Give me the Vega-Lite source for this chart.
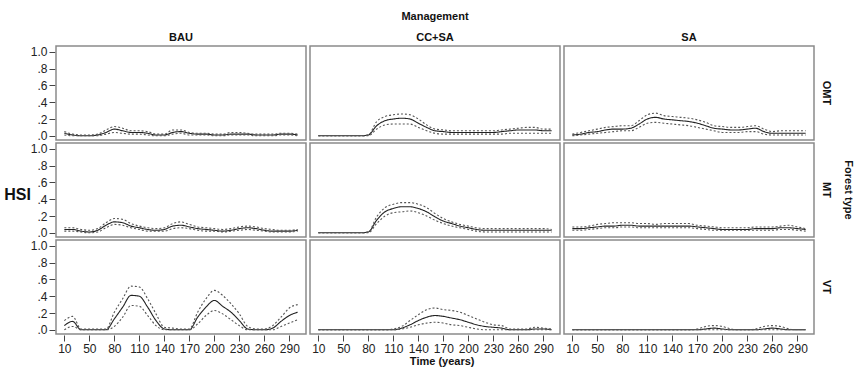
{
  "$schema": "https://vega.github.io/schema/vega-lite/v6.json",
  "padding": {"top": 11, "left": 4, "right": 0, "bottom": 2},
  "title": {"text": "Time (years)", "orient": "bottom", "anchor": "middle", "fontSize": 11, "fontWeight": "bold", "color": "#111111", "offset": 2, "dx": 13},
  "vconcat": [{
  "data": {"values": [
    {"m":"BAU","f":"OMT","t":10,"Mean":0.03,"Upper":0.05,"Lower":0.01},
    {"m":"BAU","f":"OMT","t":20,"Mean":0.01,"Upper":0.02,"Lower":0.0},
    {"m":"BAU","f":"OMT","t":30,"Mean":0.0,"Upper":0.01,"Lower":0.0},
    {"m":"BAU","f":"OMT","t":50,"Mean":0.0,"Upper":0.01,"Lower":0.0},
    {"m":"BAU","f":"OMT","t":60,"Mean":0.01,"Upper":0.02,"Lower":0.0},
    {"m":"BAU","f":"OMT","t":70,"Mean":0.04,"Upper":0.07,"Lower":0.02},
    {"m":"BAU","f":"OMT","t":80,"Mean":0.08,"Upper":0.11,"Lower":0.04},
    {"m":"BAU","f":"OMT","t":90,"Mean":0.06,"Upper":0.09,"Lower":0.03},
    {"m":"BAU","f":"OMT","t":100,"Mean":0.04,"Upper":0.06,"Lower":0.02},
    {"m":"BAU","f":"OMT","t":110,"Mean":0.04,"Upper":0.06,"Lower":0.02},
    {"m":"BAU","f":"OMT","t":120,"Mean":0.03,"Upper":0.05,"Lower":0.01},
    {"m":"BAU","f":"OMT","t":130,"Mean":0.01,"Upper":0.02,"Lower":0.0},
    {"m":"BAU","f":"OMT","t":140,"Mean":0.01,"Upper":0.02,"Lower":0.0},
    {"m":"BAU","f":"OMT","t":150,"Mean":0.04,"Upper":0.07,"Lower":0.02},
    {"m":"BAU","f":"OMT","t":160,"Mean":0.05,"Upper":0.07,"Lower":0.03},
    {"m":"BAU","f":"OMT","t":170,"Mean":0.03,"Upper":0.04,"Lower":0.01},
    {"m":"BAU","f":"OMT","t":180,"Mean":0.02,"Upper":0.03,"Lower":0.01},
    {"m":"BAU","f":"OMT","t":190,"Mean":0.02,"Upper":0.03,"Lower":0.01},
    {"m":"BAU","f":"OMT","t":200,"Mean":0.01,"Upper":0.02,"Lower":0.0},
    {"m":"BAU","f":"OMT","t":210,"Mean":0.01,"Upper":0.02,"Lower":0.0},
    {"m":"BAU","f":"OMT","t":220,"Mean":0.02,"Upper":0.04,"Lower":0.01},
    {"m":"BAU","f":"OMT","t":230,"Mean":0.02,"Upper":0.04,"Lower":0.01},
    {"m":"BAU","f":"OMT","t":240,"Mean":0.02,"Upper":0.03,"Lower":0.01},
    {"m":"BAU","f":"OMT","t":250,"Mean":0.01,"Upper":0.02,"Lower":0.0},
    {"m":"BAU","f":"OMT","t":260,"Mean":0.01,"Upper":0.02,"Lower":0.0},
    {"m":"BAU","f":"OMT","t":270,"Mean":0.01,"Upper":0.02,"Lower":0.0},
    {"m":"BAU","f":"OMT","t":280,"Mean":0.02,"Upper":0.03,"Lower":0.01},
    {"m":"BAU","f":"OMT","t":290,"Mean":0.02,"Upper":0.03,"Lower":0.01},
    {"m":"BAU","f":"OMT","t":300,"Mean":0.01,"Upper":0.02,"Lower":0.0},

    {"m":"BAU","f":"MT","t":10,"Mean":0.04,"Upper":0.06,"Lower":0.02},
    {"m":"BAU","f":"MT","t":20,"Mean":0.04,"Upper":0.06,"Lower":0.02},
    {"m":"BAU","f":"MT","t":30,"Mean":0.02,"Upper":0.04,"Lower":0.01},
    {"m":"BAU","f":"MT","t":50,"Mean":0.01,"Upper":0.03,"Lower":0.0},
    {"m":"BAU","f":"MT","t":60,"Mean":0.03,"Upper":0.05,"Lower":0.01},
    {"m":"BAU","f":"MT","t":70,"Mean":0.09,"Upper":0.12,"Lower":0.06},
    {"m":"BAU","f":"MT","t":80,"Mean":0.13,"Upper":0.17,"Lower":0.10},
    {"m":"BAU","f":"MT","t":90,"Mean":0.12,"Upper":0.16,"Lower":0.09},
    {"m":"BAU","f":"MT","t":100,"Mean":0.08,"Upper":0.11,"Lower":0.06},
    {"m":"BAU","f":"MT","t":110,"Mean":0.06,"Upper":0.08,"Lower":0.04},
    {"m":"BAU","f":"MT","t":120,"Mean":0.04,"Upper":0.06,"Lower":0.02},
    {"m":"BAU","f":"MT","t":130,"Mean":0.03,"Upper":0.05,"Lower":0.02},
    {"m":"BAU","f":"MT","t":140,"Mean":0.04,"Upper":0.06,"Lower":0.02},
    {"m":"BAU","f":"MT","t":150,"Mean":0.08,"Upper":0.11,"Lower":0.05},
    {"m":"BAU","f":"MT","t":160,"Mean":0.09,"Upper":0.13,"Lower":0.06},
    {"m":"BAU","f":"MT","t":170,"Mean":0.07,"Upper":0.10,"Lower":0.05},
    {"m":"BAU","f":"MT","t":180,"Mean":0.05,"Upper":0.07,"Lower":0.03},
    {"m":"BAU","f":"MT","t":190,"Mean":0.04,"Upper":0.06,"Lower":0.02},
    {"m":"BAU","f":"MT","t":200,"Mean":0.03,"Upper":0.05,"Lower":0.02},
    {"m":"BAU","f":"MT","t":210,"Mean":0.02,"Upper":0.04,"Lower":0.01},
    {"m":"BAU","f":"MT","t":220,"Mean":0.03,"Upper":0.05,"Lower":0.02},
    {"m":"BAU","f":"MT","t":230,"Mean":0.05,"Upper":0.07,"Lower":0.03},
    {"m":"BAU","f":"MT","t":240,"Mean":0.06,"Upper":0.08,"Lower":0.04},
    {"m":"BAU","f":"MT","t":250,"Mean":0.05,"Upper":0.07,"Lower":0.03},
    {"m":"BAU","f":"MT","t":260,"Mean":0.03,"Upper":0.05,"Lower":0.02},
    {"m":"BAU","f":"MT","t":270,"Mean":0.02,"Upper":0.04,"Lower":0.01},
    {"m":"BAU","f":"MT","t":280,"Mean":0.02,"Upper":0.03,"Lower":0.01},
    {"m":"BAU","f":"MT","t":290,"Mean":0.02,"Upper":0.03,"Lower":0.01},
    {"m":"BAU","f":"MT","t":300,"Mean":0.03,"Upper":0.04,"Lower":0.02},

    {"m":"BAU","f":"VT","t":10,"Mean":0.05,"Upper":0.11,"Lower":0.0},
    {"m":"BAU","f":"VT","t":20,"Mean":0.10,"Upper":0.16,"Lower":0.04},
    {"m":"BAU","f":"VT","t":30,"Mean":0.0,"Upper":0.01,"Lower":0.0},
    {"m":"BAU","f":"VT","t":50,"Mean":0.0,"Upper":0.01,"Lower":0.0},
    {"m":"BAU","f":"VT","t":60,"Mean":0.0,"Upper":0.01,"Lower":0.0},
    {"m":"BAU","f":"VT","t":70,"Mean":0.0,"Upper":0.01,"Lower":0.0},
    {"m":"BAU","f":"VT","t":80,"Mean":0.13,"Upper":0.21,"Lower":0.04},
    {"m":"BAU","f":"VT","t":90,"Mean":0.27,"Upper":0.37,"Lower":0.15},
    {"m":"BAU","f":"VT","t":100,"Mean":0.41,"Upper":0.52,"Lower":0.29},
    {"m":"BAU","f":"VT","t":110,"Mean":0.40,"Upper":0.51,"Lower":0.28},
    {"m":"BAU","f":"VT","t":120,"Mean":0.27,"Upper":0.37,"Lower":0.17},
    {"m":"BAU","f":"VT","t":130,"Mean":0.11,"Upper":0.19,"Lower":0.05},
    {"m":"BAU","f":"VT","t":140,"Mean":0.01,"Upper":0.03,"Lower":0.0},
    {"m":"BAU","f":"VT","t":150,"Mean":0.0,"Upper":0.02,"Lower":0.0},
    {"m":"BAU","f":"VT","t":160,"Mean":0.0,"Upper":0.01,"Lower":0.0},
    {"m":"BAU","f":"VT","t":170,"Mean":0.0,"Upper":0.01,"Lower":0.0},
    {"m":"BAU","f":"VT","t":180,"Mean":0.15,"Upper":0.21,"Lower":0.07},
    {"m":"BAU","f":"VT","t":190,"Mean":0.27,"Upper":0.37,"Lower":0.17},
    {"m":"BAU","f":"VT","t":200,"Mean":0.35,"Upper":0.47,"Lower":0.23},
    {"m":"BAU","f":"VT","t":210,"Mean":0.28,"Upper":0.41,"Lower":0.19},
    {"m":"BAU","f":"VT","t":220,"Mean":0.21,"Upper":0.31,"Lower":0.12},
    {"m":"BAU","f":"VT","t":230,"Mean":0.11,"Upper":0.19,"Lower":0.05},
    {"m":"BAU","f":"VT","t":240,"Mean":0.01,"Upper":0.04,"Lower":0.0},
    {"m":"BAU","f":"VT","t":250,"Mean":0.0,"Upper":0.01,"Lower":0.0},
    {"m":"BAU","f":"VT","t":260,"Mean":0.0,"Upper":0.01,"Lower":0.0},
    {"m":"BAU","f":"VT","t":270,"Mean":0.02,"Upper":0.05,"Lower":0.0},
    {"m":"BAU","f":"VT","t":280,"Mean":0.10,"Upper":0.15,"Lower":0.04},
    {"m":"BAU","f":"VT","t":290,"Mean":0.17,"Upper":0.26,"Lower":0.08},
    {"m":"BAU","f":"VT","t":300,"Mean":0.21,"Upper":0.30,"Lower":0.12},

    {"m":"CC+SA","f":"OMT","t":10,"Mean":0.0,"Upper":0.0,"Lower":0.0},
    {"m":"CC+SA","f":"OMT","t":20,"Mean":0.0,"Upper":0.0,"Lower":0.0},
    {"m":"CC+SA","f":"OMT","t":30,"Mean":0.0,"Upper":0.0,"Lower":0.0},
    {"m":"CC+SA","f":"OMT","t":50,"Mean":0.0,"Upper":0.0,"Lower":0.0},
    {"m":"CC+SA","f":"OMT","t":60,"Mean":0.0,"Upper":0.0,"Lower":0.0},
    {"m":"CC+SA","f":"OMT","t":70,"Mean":0.0,"Upper":0.0,"Lower":0.0},
    {"m":"CC+SA","f":"OMT","t":80,"Mean":0.01,"Upper":0.01,"Lower":0.0},
    {"m":"CC+SA","f":"OMT","t":90,"Mean":0.12,"Upper":0.17,"Lower":0.08},
    {"m":"CC+SA","f":"OMT","t":100,"Mean":0.18,"Upper":0.23,"Lower":0.13},
    {"m":"CC+SA","f":"OMT","t":110,"Mean":0.20,"Upper":0.25,"Lower":0.14},
    {"m":"CC+SA","f":"OMT","t":120,"Mean":0.21,"Upper":0.26,"Lower":0.14},
    {"m":"CC+SA","f":"OMT","t":130,"Mean":0.20,"Upper":0.25,"Lower":0.14},
    {"m":"CC+SA","f":"OMT","t":140,"Mean":0.15,"Upper":0.20,"Lower":0.10},
    {"m":"CC+SA","f":"OMT","t":150,"Mean":0.10,"Upper":0.13,"Lower":0.06},
    {"m":"CC+SA","f":"OMT","t":160,"Mean":0.06,"Upper":0.08,"Lower":0.03},
    {"m":"CC+SA","f":"OMT","t":170,"Mean":0.05,"Upper":0.07,"Lower":0.02},
    {"m":"CC+SA","f":"OMT","t":180,"Mean":0.04,"Upper":0.06,"Lower":0.02},
    {"m":"CC+SA","f":"OMT","t":190,"Mean":0.04,"Upper":0.06,"Lower":0.02},
    {"m":"CC+SA","f":"OMT","t":200,"Mean":0.04,"Upper":0.06,"Lower":0.02},
    {"m":"CC+SA","f":"OMT","t":210,"Mean":0.04,"Upper":0.06,"Lower":0.02},
    {"m":"CC+SA","f":"OMT","t":220,"Mean":0.04,"Upper":0.06,"Lower":0.02},
    {"m":"CC+SA","f":"OMT","t":230,"Mean":0.04,"Upper":0.06,"Lower":0.02},
    {"m":"CC+SA","f":"OMT","t":240,"Mean":0.05,"Upper":0.07,"Lower":0.02},
    {"m":"CC+SA","f":"OMT","t":250,"Mean":0.06,"Upper":0.08,"Lower":0.03},
    {"m":"CC+SA","f":"OMT","t":260,"Mean":0.07,"Upper":0.09,"Lower":0.03},
    {"m":"CC+SA","f":"OMT","t":270,"Mean":0.07,"Upper":0.10,"Lower":0.03},
    {"m":"CC+SA","f":"OMT","t":280,"Mean":0.07,"Upper":0.10,"Lower":0.03},
    {"m":"CC+SA","f":"OMT","t":290,"Mean":0.06,"Upper":0.08,"Lower":0.03},
    {"m":"CC+SA","f":"OMT","t":300,"Mean":0.06,"Upper":0.08,"Lower":0.03},

    {"m":"CC+SA","f":"MT","t":10,"Mean":0.0,"Upper":0.0,"Lower":0.0},
    {"m":"CC+SA","f":"MT","t":20,"Mean":0.0,"Upper":0.0,"Lower":0.0},
    {"m":"CC+SA","f":"MT","t":30,"Mean":0.0,"Upper":0.0,"Lower":0.0},
    {"m":"CC+SA","f":"MT","t":50,"Mean":0.0,"Upper":0.0,"Lower":0.0},
    {"m":"CC+SA","f":"MT","t":60,"Mean":0.0,"Upper":0.0,"Lower":0.0},
    {"m":"CC+SA","f":"MT","t":70,"Mean":0.0,"Upper":0.0,"Lower":0.0},
    {"m":"CC+SA","f":"MT","t":80,"Mean":0.01,"Upper":0.01,"Lower":0.0},
    {"m":"CC+SA","f":"MT","t":90,"Mean":0.15,"Upper":0.19,"Lower":0.11},
    {"m":"CC+SA","f":"MT","t":100,"Mean":0.25,"Upper":0.30,"Lower":0.20},
    {"m":"CC+SA","f":"MT","t":110,"Mean":0.29,"Upper":0.34,"Lower":0.24},
    {"m":"CC+SA","f":"MT","t":120,"Mean":0.31,"Upper":0.36,"Lower":0.25},
    {"m":"CC+SA","f":"MT","t":130,"Mean":0.31,"Upper":0.36,"Lower":0.26},
    {"m":"CC+SA","f":"MT","t":140,"Mean":0.29,"Upper":0.34,"Lower":0.24},
    {"m":"CC+SA","f":"MT","t":150,"Mean":0.25,"Upper":0.30,"Lower":0.20},
    {"m":"CC+SA","f":"MT","t":160,"Mean":0.19,"Upper":0.23,"Lower":0.15},
    {"m":"CC+SA","f":"MT","t":170,"Mean":0.14,"Upper":0.17,"Lower":0.11},
    {"m":"CC+SA","f":"MT","t":180,"Mean":0.11,"Upper":0.13,"Lower":0.08},
    {"m":"CC+SA","f":"MT","t":190,"Mean":0.08,"Upper":0.10,"Lower":0.06},
    {"m":"CC+SA","f":"MT","t":200,"Mean":0.06,"Upper":0.08,"Lower":0.04},
    {"m":"CC+SA","f":"MT","t":210,"Mean":0.04,"Upper":0.06,"Lower":0.02},
    {"m":"CC+SA","f":"MT","t":220,"Mean":0.03,"Upper":0.05,"Lower":0.01},
    {"m":"CC+SA","f":"MT","t":230,"Mean":0.03,"Upper":0.05,"Lower":0.01},
    {"m":"CC+SA","f":"MT","t":240,"Mean":0.03,"Upper":0.05,"Lower":0.01},
    {"m":"CC+SA","f":"MT","t":250,"Mean":0.03,"Upper":0.05,"Lower":0.01},
    {"m":"CC+SA","f":"MT","t":260,"Mean":0.03,"Upper":0.05,"Lower":0.01},
    {"m":"CC+SA","f":"MT","t":270,"Mean":0.03,"Upper":0.05,"Lower":0.01},
    {"m":"CC+SA","f":"MT","t":280,"Mean":0.03,"Upper":0.05,"Lower":0.01},
    {"m":"CC+SA","f":"MT","t":290,"Mean":0.03,"Upper":0.05,"Lower":0.01},
    {"m":"CC+SA","f":"MT","t":300,"Mean":0.03,"Upper":0.04,"Lower":0.01},

    {"m":"CC+SA","f":"VT","t":10,"Mean":0.0,"Upper":0.0,"Lower":0.0},
    {"m":"CC+SA","f":"VT","t":20,"Mean":0.0,"Upper":0.0,"Lower":0.0},
    {"m":"CC+SA","f":"VT","t":30,"Mean":0.0,"Upper":0.0,"Lower":0.0},
    {"m":"CC+SA","f":"VT","t":50,"Mean":0.0,"Upper":0.0,"Lower":0.0},
    {"m":"CC+SA","f":"VT","t":60,"Mean":0.0,"Upper":0.0,"Lower":0.0},
    {"m":"CC+SA","f":"VT","t":70,"Mean":0.0,"Upper":0.0,"Lower":0.0},
    {"m":"CC+SA","f":"VT","t":80,"Mean":0.0,"Upper":0.0,"Lower":0.0},
    {"m":"CC+SA","f":"VT","t":90,"Mean":0.0,"Upper":0.0,"Lower":0.0},
    {"m":"CC+SA","f":"VT","t":100,"Mean":0.0,"Upper":0.0,"Lower":0.0},
    {"m":"CC+SA","f":"VT","t":110,"Mean":0.0,"Upper":0.01,"Lower":0.0},
    {"m":"CC+SA","f":"VT","t":120,"Mean":0.02,"Upper":0.04,"Lower":0.01},
    {"m":"CC+SA","f":"VT","t":130,"Mean":0.06,"Upper":0.11,"Lower":0.03},
    {"m":"CC+SA","f":"VT","t":140,"Mean":0.11,"Upper":0.18,"Lower":0.06},
    {"m":"CC+SA","f":"VT","t":150,"Mean":0.15,"Upper":0.24,"Lower":0.08},
    {"m":"CC+SA","f":"VT","t":160,"Mean":0.17,"Upper":0.26,"Lower":0.09},
    {"m":"CC+SA","f":"VT","t":170,"Mean":0.16,"Upper":0.24,"Lower":0.08},
    {"m":"CC+SA","f":"VT","t":180,"Mean":0.14,"Upper":0.23,"Lower":0.06},
    {"m":"CC+SA","f":"VT","t":190,"Mean":0.12,"Upper":0.21,"Lower":0.05},
    {"m":"CC+SA","f":"VT","t":200,"Mean":0.09,"Upper":0.17,"Lower":0.03},
    {"m":"CC+SA","f":"VT","t":210,"Mean":0.06,"Upper":0.13,"Lower":0.01},
    {"m":"CC+SA","f":"VT","t":220,"Mean":0.04,"Upper":0.09,"Lower":0.0},
    {"m":"CC+SA","f":"VT","t":230,"Mean":0.03,"Upper":0.06,"Lower":0.0},
    {"m":"CC+SA","f":"VT","t":240,"Mean":0.02,"Upper":0.05,"Lower":0.0},
    {"m":"CC+SA","f":"VT","t":250,"Mean":0.0,"Upper":0.01,"Lower":0.0},
    {"m":"CC+SA","f":"VT","t":260,"Mean":0.0,"Upper":0.01,"Lower":0.0},
    {"m":"CC+SA","f":"VT","t":270,"Mean":0.0,"Upper":0.01,"Lower":0.0},
    {"m":"CC+SA","f":"VT","t":280,"Mean":0.01,"Upper":0.03,"Lower":0.0},
    {"m":"CC+SA","f":"VT","t":290,"Mean":0.01,"Upper":0.02,"Lower":0.0},
    {"m":"CC+SA","f":"VT","t":300,"Mean":0.0,"Upper":0.01,"Lower":0.0},

    {"m":"SA","f":"OMT","t":10,"Mean":0.01,"Upper":0.02,"Lower":0.0},
    {"m":"SA","f":"OMT","t":20,"Mean":0.02,"Upper":0.04,"Lower":0.01},
    {"m":"SA","f":"OMT","t":30,"Mean":0.04,"Upper":0.06,"Lower":0.02},
    {"m":"SA","f":"OMT","t":50,"Mean":0.05,"Upper":0.08,"Lower":0.03},
    {"m":"SA","f":"OMT","t":60,"Mean":0.07,"Upper":0.10,"Lower":0.04},
    {"m":"SA","f":"OMT","t":70,"Mean":0.08,"Upper":0.11,"Lower":0.05},
    {"m":"SA","f":"OMT","t":80,"Mean":0.08,"Upper":0.12,"Lower":0.06},
    {"m":"SA","f":"OMT","t":90,"Mean":0.09,"Upper":0.12,"Lower":0.06},
    {"m":"SA","f":"OMT","t":100,"Mean":0.14,"Upper":0.18,"Lower":0.10},
    {"m":"SA","f":"OMT","t":110,"Mean":0.20,"Upper":0.25,"Lower":0.15},
    {"m":"SA","f":"OMT","t":120,"Mean":0.22,"Upper":0.27,"Lower":0.16},
    {"m":"SA","f":"OMT","t":130,"Mean":0.20,"Upper":0.24,"Lower":0.15},
    {"m":"SA","f":"OMT","t":140,"Mean":0.19,"Upper":0.23,"Lower":0.14},
    {"m":"SA","f":"OMT","t":150,"Mean":0.18,"Upper":0.22,"Lower":0.13},
    {"m":"SA","f":"OMT","t":160,"Mean":0.17,"Upper":0.21,"Lower":0.12},
    {"m":"SA","f":"OMT","t":170,"Mean":0.15,"Upper":0.19,"Lower":0.10},
    {"m":"SA","f":"OMT","t":180,"Mean":0.12,"Upper":0.16,"Lower":0.08},
    {"m":"SA","f":"OMT","t":190,"Mean":0.09,"Upper":0.12,"Lower":0.06},
    {"m":"SA","f":"OMT","t":200,"Mean":0.08,"Upper":0.11,"Lower":0.04},
    {"m":"SA","f":"OMT","t":210,"Mean":0.07,"Upper":0.10,"Lower":0.04},
    {"m":"SA","f":"OMT","t":220,"Mean":0.07,"Upper":0.10,"Lower":0.04},
    {"m":"SA","f":"OMT","t":230,"Mean":0.08,"Upper":0.11,"Lower":0.05},
    {"m":"SA","f":"OMT","t":240,"Mean":0.09,"Upper":0.12,"Lower":0.05},
    {"m":"SA","f":"OMT","t":250,"Mean":0.05,"Upper":0.08,"Lower":0.02},
    {"m":"SA","f":"OMT","t":260,"Mean":0.03,"Upper":0.05,"Lower":0.01},
    {"m":"SA","f":"OMT","t":270,"Mean":0.03,"Upper":0.06,"Lower":0.01},
    {"m":"SA","f":"OMT","t":280,"Mean":0.03,"Upper":0.06,"Lower":0.01},
    {"m":"SA","f":"OMT","t":290,"Mean":0.03,"Upper":0.06,"Lower":0.01},
    {"m":"SA","f":"OMT","t":300,"Mean":0.03,"Upper":0.06,"Lower":0.01},

    {"m":"SA","f":"MT","t":10,"Mean":0.05,"Upper":0.07,"Lower":0.03},
    {"m":"SA","f":"MT","t":20,"Mean":0.05,"Upper":0.07,"Lower":0.03},
    {"m":"SA","f":"MT","t":30,"Mean":0.06,"Upper":0.08,"Lower":0.04},
    {"m":"SA","f":"MT","t":50,"Mean":0.07,"Upper":0.10,"Lower":0.05},
    {"m":"SA","f":"MT","t":60,"Mean":0.08,"Upper":0.11,"Lower":0.06},
    {"m":"SA","f":"MT","t":70,"Mean":0.08,"Upper":0.12,"Lower":0.06},
    {"m":"SA","f":"MT","t":80,"Mean":0.09,"Upper":0.12,"Lower":0.07},
    {"m":"SA","f":"MT","t":90,"Mean":0.09,"Upper":0.12,"Lower":0.07},
    {"m":"SA","f":"MT","t":100,"Mean":0.08,"Upper":0.11,"Lower":0.06},
    {"m":"SA","f":"MT","t":110,"Mean":0.08,"Upper":0.11,"Lower":0.06},
    {"m":"SA","f":"MT","t":120,"Mean":0.08,"Upper":0.10,"Lower":0.06},
    {"m":"SA","f":"MT","t":130,"Mean":0.08,"Upper":0.11,"Lower":0.06},
    {"m":"SA","f":"MT","t":140,"Mean":0.08,"Upper":0.11,"Lower":0.06},
    {"m":"SA","f":"MT","t":150,"Mean":0.08,"Upper":0.11,"Lower":0.06},
    {"m":"SA","f":"MT","t":160,"Mean":0.08,"Upper":0.11,"Lower":0.06},
    {"m":"SA","f":"MT","t":170,"Mean":0.07,"Upper":0.09,"Lower":0.05},
    {"m":"SA","f":"MT","t":180,"Mean":0.06,"Upper":0.08,"Lower":0.04},
    {"m":"SA","f":"MT","t":190,"Mean":0.05,"Upper":0.07,"Lower":0.03},
    {"m":"SA","f":"MT","t":200,"Mean":0.04,"Upper":0.06,"Lower":0.03},
    {"m":"SA","f":"MT","t":210,"Mean":0.04,"Upper":0.06,"Lower":0.03},
    {"m":"SA","f":"MT","t":220,"Mean":0.04,"Upper":0.06,"Lower":0.03},
    {"m":"SA","f":"MT","t":230,"Mean":0.04,"Upper":0.06,"Lower":0.03},
    {"m":"SA","f":"MT","t":240,"Mean":0.05,"Upper":0.07,"Lower":0.03},
    {"m":"SA","f":"MT","t":250,"Mean":0.05,"Upper":0.07,"Lower":0.03},
    {"m":"SA","f":"MT","t":260,"Mean":0.05,"Upper":0.07,"Lower":0.03},
    {"m":"SA","f":"MT","t":270,"Mean":0.06,"Upper":0.08,"Lower":0.04},
    {"m":"SA","f":"MT","t":280,"Mean":0.06,"Upper":0.09,"Lower":0.04},
    {"m":"SA","f":"MT","t":290,"Mean":0.05,"Upper":0.07,"Lower":0.03},
    {"m":"SA","f":"MT","t":300,"Mean":0.04,"Upper":0.05,"Lower":0.02},

    {"m":"SA","f":"VT","t":10,"Mean":0.0,"Upper":0.0,"Lower":0.0},
    {"m":"SA","f":"VT","t":20,"Mean":0.0,"Upper":0.0,"Lower":0.0},
    {"m":"SA","f":"VT","t":30,"Mean":0.0,"Upper":0.0,"Lower":0.0},
    {"m":"SA","f":"VT","t":50,"Mean":0.0,"Upper":0.0,"Lower":0.0},
    {"m":"SA","f":"VT","t":60,"Mean":0.0,"Upper":0.0,"Lower":0.0},
    {"m":"SA","f":"VT","t":70,"Mean":0.0,"Upper":0.0,"Lower":0.0},
    {"m":"SA","f":"VT","t":80,"Mean":0.0,"Upper":0.0,"Lower":0.0},
    {"m":"SA","f":"VT","t":90,"Mean":0.0,"Upper":0.0,"Lower":0.0},
    {"m":"SA","f":"VT","t":100,"Mean":0.0,"Upper":0.0,"Lower":0.0},
    {"m":"SA","f":"VT","t":110,"Mean":0.0,"Upper":0.0,"Lower":0.0},
    {"m":"SA","f":"VT","t":120,"Mean":0.0,"Upper":0.0,"Lower":0.0},
    {"m":"SA","f":"VT","t":130,"Mean":0.0,"Upper":0.0,"Lower":0.0},
    {"m":"SA","f":"VT","t":140,"Mean":0.0,"Upper":0.0,"Lower":0.0},
    {"m":"SA","f":"VT","t":150,"Mean":0.0,"Upper":0.0,"Lower":0.0},
    {"m":"SA","f":"VT","t":160,"Mean":0.0,"Upper":0.0,"Lower":0.0},
    {"m":"SA","f":"VT","t":170,"Mean":0.0,"Upper":0.01,"Lower":0.0},
    {"m":"SA","f":"VT","t":180,"Mean":0.01,"Upper":0.04,"Lower":0.0},
    {"m":"SA","f":"VT","t":190,"Mean":0.02,"Upper":0.05,"Lower":0.0},
    {"m":"SA","f":"VT","t":200,"Mean":0.01,"Upper":0.04,"Lower":0.0},
    {"m":"SA","f":"VT","t":210,"Mean":0.0,"Upper":0.01,"Lower":0.0},
    {"m":"SA","f":"VT","t":220,"Mean":0.0,"Upper":0.0,"Lower":0.0},
    {"m":"SA","f":"VT","t":230,"Mean":0.0,"Upper":0.0,"Lower":0.0},
    {"m":"SA","f":"VT","t":240,"Mean":0.0,"Upper":0.01,"Lower":0.0},
    {"m":"SA","f":"VT","t":250,"Mean":0.01,"Upper":0.04,"Lower":0.0},
    {"m":"SA","f":"VT","t":260,"Mean":0.02,"Upper":0.05,"Lower":0.0},
    {"m":"SA","f":"VT","t":270,"Mean":0.01,"Upper":0.04,"Lower":0.0},
    {"m":"SA","f":"VT","t":280,"Mean":0.0,"Upper":0.01,"Lower":0.0},
    {"m":"SA","f":"VT","t":290,"Mean":0.0,"Upper":0.0,"Lower":0.0},
    {"m":"SA","f":"VT","t":300,"Mean":0.0,"Upper":0.0,"Lower":0.0}
  ]},
  "title": {"text": "HSI", "orient": "left", "angle": 0, "anchor": "middle", "fontSize": 16, "fontWeight": "bold", "color": "#111111", "offset": -14, "dy": 4},
  "transform": [{"fold": ["Mean", "Upper", "Lower"], "as": ["s", "v"]}],
  "facet": {
    "column": {"field": "m", "type": "nominal", "sort": ["BAU", "CC+SA", "SA"], "title": "Management",
      "header": {"labelPadding": 2, "titlePadding": 0}},
    "row": {"field": "f", "type": "nominal", "sort": ["OMT", "MT", "VT"], "title": "Forest type",
      "header": {"labelOrient": "right", "labelAngle": 90, "titleOrient": "right", "titleAngle": 90, "labelPadding": 6, "titlePadding": 1}}
  },
  "spacing": {"row": 1, "column": 2},
  "spec": {
    "width": 250,
    "height": 94,
    "mark": {"type": "line", "interpolate": "monotone", "strokeWidth": 1.1},
    "encoding": {
      "x": {"field": "t", "type": "ordinal", "scale": {"type": "point", "padding": 1.9},
        "axis": {"values": [10, 50, 80, 110, 140, 170, 200, 230, 260, 290], "labelAngle": 0, "labelOverlap": false, "title": null}},
      "y": {"field": "v", "type": "quantitative", "scale": {"domain": [-0.05, 1.07], "nice": false, "zero": false},
        "axis": {"values": [0, 0.2, 0.4, 0.6, 0.8, 1], "labelExpr": "datum.value >= 1 ? '1.0' : slice(format(datum.value, '.1f'), 1)", "title": null}},
      "color": {"field": "s", "type": "nominal", "scale": {"domain": ["Mean", "Upper", "Lower"], "range": ["#222222", "#555555", "#555555"]}, "legend": null},
      "strokeDash": {"field": "s", "type": "nominal", "scale": {"domain": ["Mean", "Upper", "Lower"], "range": [[1, 0], [2, 2], [2, 2]]}, "legend": null}
    }
  }
  }],
  "config": {
    "font": "Liberation Sans",
    "view": {"stroke": "#8a8a8a", "strokeWidth": 1.5},
    "axis": {"domain": false, "grid": false, "labelFontSize": 12, "labelColor": "#222222", "tickColor": "#444444", "tickSize": 6, "labelPadding": 2},
    "header": {"labelFontSize": 11, "labelFontWeight": "bold", "titleFontSize": 11, "titleFontWeight": "bold", "labelColor": "#111111", "titleColor": "#111111"}
  }
}
